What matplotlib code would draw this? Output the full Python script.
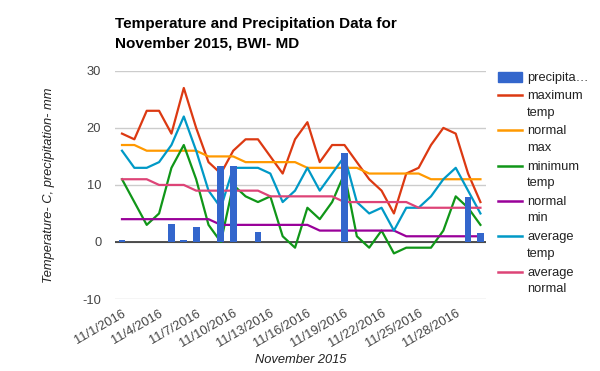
import matplotlib
matplotlib.use("Agg")
import matplotlib.pyplot as plt
from matplotlib.lines import Line2D
from matplotlib.patches import Rectangle

# data (Nov 1-30)
days = list(range(1, 31))
tick_days = [1, 4, 7, 10, 13, 16, 19, 22, 25, 28]
tick_labels = [f"11/{d}/2016" for d in tick_days]

precip = [0.4, 0, 0, 0, 3.2, 0.4, 2.7, 0, 13.4, 13.4, 0, 1.7, 0, 0, 0,
          0, 0, 0, 15.6, 0, 0, 0, 0, 0, 0, 0, 0, 0, 7.9, 1.6]
max_temp = [19, 18, 23, 23, 19, 27, 20, 14, 12, 16, 18, 18, 15, 12, 18,
            21, 14, 17, 17, 14, 11, 9, 5, 12, 13, 17, 20, 19, 12, 7]
normal_max = [17, 17, 16, 16, 16, 16, 16, 15, 15, 15, 14, 14, 14, 14, 14,
              13, 13, 13, 13, 13, 12, 12, 12, 12, 12, 11, 11, 11, 11, 11]
min_temp = [11, 7, 3, 5, 13, 17, 11, 3, 0, 10, 8, 7, 8, 1, -1,
            6, 4, 7, 12, 1, -1, 2, -2, -1, -1, -1, 2, 8, 6, 3]
normal_min = [4, 4, 4, 4, 4, 4, 4, 4, 3, 3, 3, 3, 3, 3, 3,
              3, 2, 2, 2, 2, 2, 2, 2, 1, 1, 1, 1, 1, 1, 1]
avg_temp = [16, 13, 13, 14, 17, 22, 16, 9, 6, 13, 13, 13, 12, 7, 9,
            13, 9, 12, 15, 7, 5, 6, 2, 6, 6, 8, 11, 13, 9, 5]
avg_normal = [11, 11, 11, 10, 10, 10, 9, 9, 9, 9, 9, 9, 8, 8, 8,
              8, 8, 8, 7, 7, 7, 7, 7, 7, 6, 6, 6, 6, 6, 6]

precip_label = "precipita…"
series = [
    ("maximum\ntemp", max_temp, "#dc3912"),
    ("normal\nmax", normal_max, "#ff9900"),
    ("minimum\ntemp", min_temp, "#109618"),
    ("normal\nmin", normal_min, "#990099"),
    ("average\ntemp", avg_temp, "#0099c6"),
    ("average\nnormal", avg_normal, "#dd4477"),
]
bar_color = "#3366cc"

plt.rcParams["font.family"] = ["Liberation Sans", "DejaVu Sans"]
plt.rcParams["axes.unicode_minus"] = False

W, H = 600, 371
fig = plt.figure(figsize=(6, 3.71), dpi=100)
ax = fig.add_axes([0.192, 0.194, 0.618, 0.615])

# lines
for label, vals, color in series:
    ax.plot(days, vals, color=color, lw=1.6, zorder=3)

# bars
ax.bar(days, precip, width=0.55, color=bar_color, zorder=4)

ax.set_xlim(0.45, 30.45)
ax.set_ylim(-10, 30)
ax.set_yticks([-10, 0, 10, 20, 30])
ax.set_xticks(tick_days)
ax.set_xticklabels(tick_labels, rotation=30, ha="right", rotation_mode="anchor")

ax.grid(axis="y", color="#cccccc", lw=1, zorder=0)
ax.axhline(0, color="#333333", lw=1.2, zorder=2)
for s in ax.spines.values():
    s.set_visible(False)
ax.tick_params(length=0, labelsize=9.3, labelcolor="#444444")
ax.tick_params(axis="y", pad=10)
ax.tick_params(axis="x", pad=6)

ax.set_xlabel("November 2015", style="italic", fontsize=9.3, color="#222222", labelpad=3)
ax.set_ylabel("Temperature- C, precipitation- mm", style="italic", fontsize=9.3,
              color="#222222", labelpad=20)

fig.text(0.192, 0.953, "Temperature and Precipitation Data for\nNovember 2015, BWI- MD",
         fontsize=11, fontweight="bold", va="top", ha="left", linespacing=1.45)

# legend, drawn by hand so the handle sits on the first text line
def fy(px):
    return 1 - px / H

hx0, hx1, tx = 498 / W, 522 / W, 527 / W
fig.add_artist(Rectangle((hx0, fy(82)), hx1 - hx0, 10 / H, transform=fig.transFigure,
                         color=bar_color))
fig.text(tx, fy(81), precip_label, fontsize=9.3, color="#222222", va="baseline")
y = 95
for label, vals, color in series:
    fig.add_artist(Line2D([hx0, hx1], [fy(y), fy(y)], transform=fig.transFigure,
                          color=color, lw=1.8))
    for i, line in enumerate(label.split("\n")):
        fig.text(tx, fy(y + 4 + 16.5 * i), line, fontsize=9.3, color="#222222",
                 va="baseline")
    y += 35.3

fig.savefig("out.png", dpi=100)
